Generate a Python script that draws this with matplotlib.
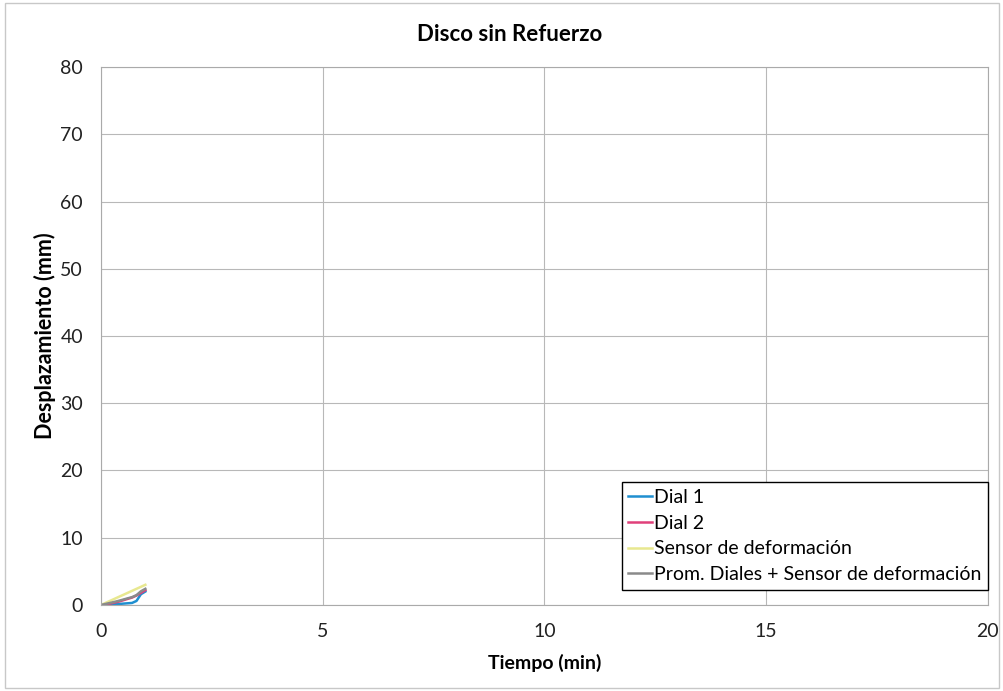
import numpy as np
import matplotlib.pyplot as plt
from matplotlib.patches import Rectangle

plt.rcParams['font.family'] = ['Lato', 'DejaVu Sans']

# datos (min, mm)
tiempo = [0.0, 0.1, 0.2, 0.3, 0.4, 0.5, 0.6, 0.7, 0.8, 0.9, 1.0]
dial_1 = [0.0, 0.05, 0.1, 0.1, 0.15, 0.2, 0.25, 0.3, 0.6, 1.6, 2.0]
dial_2 = [0.0, 0.1, 0.2, 0.35, 0.5, 0.7, 0.9, 1.1, 1.4, 1.8, 2.2]
sensor = [0.0, 0.3, 0.6, 0.9, 1.2, 1.5, 1.8, 2.1, 2.4, 2.7, 3.0]
prom = list(np.mean([dial_1, dial_2, sensor], axis=0))

fig = plt.figure(figsize=(10.04, 6.91), dpi=100)
ax = fig.add_axes([0.1006, 0.1245, 0.8834, 0.7785])

fig.patches.append(Rectangle((0.005, 0.005), 0.99, 0.99, transform=fig.transFigure,
                             fill=False, edgecolor='#c8c8c8', lw=1.0))

ax.plot(tiempo, dial_1, color='#1f8fd0', lw=1.8, label='Dial 1')
ax.plot(tiempo, dial_2, color='#e0407a', lw=1.8, label='Dial 2')
ax.plot(tiempo, sensor, color='#e8e890', lw=1.8, label='Sensor de deformación')
ax.plot(tiempo, prom, color='#8a8a8a', lw=1.8, label='Prom. Diales + Sensor de deformación')

ax.set_xlim(0, 20)
ax.set_ylim(0, 80)
ax.set_xticks([0, 5, 10, 15, 20])
ax.set_yticks(range(0, 81, 10))
ax.grid(True, color='#b8b8b8', lw=0.8)
ax.set_axisbelow(True)
for s in ax.spines.values():
    s.set_color('#aaaaaa')
    s.set_linewidth(0.8)
ax.tick_params(length=0, labelsize=14, colors='#222222', pad=13)

fig.suptitle('Disco sin Refuerzo', x=0.508, y=0.965, fontsize=16, fontweight='bold')
ax.set_xlabel('Tiempo (min)', fontsize=14, fontweight='bold', labelpad=10)
ax.set_ylabel('Desplazamiento (mm)', fontsize=15.5, fontweight='bold', labelpad=3)

leg = ax.legend(loc='lower right', bbox_to_anchor=(1.0, 0.028), fontsize=14,
                handlelength=1.2, handletextpad=0.1, borderpad=0.35, labelspacing=0.45,
                fancybox=False, framealpha=1, edgecolor='black', borderaxespad=0)
leg.get_frame().set_linewidth(1.0)

plt.savefig('out.png', dpi=100)
